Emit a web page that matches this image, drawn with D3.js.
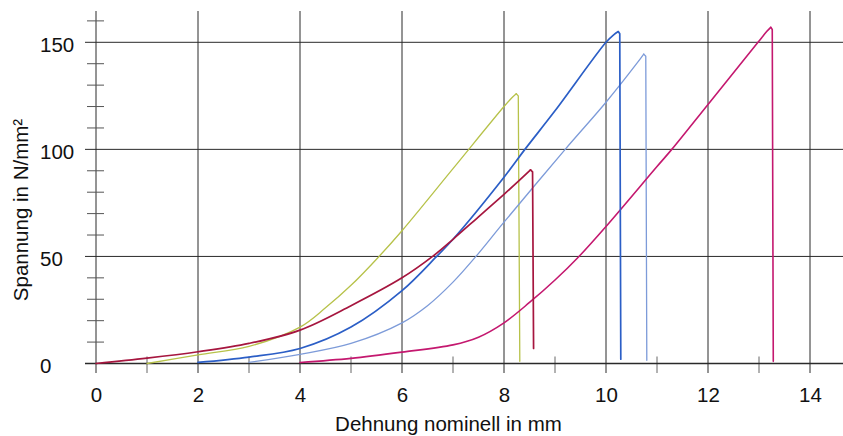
<!DOCTYPE html>
<html><head><meta charset="utf-8">
<script src="https://cdn.jsdelivr.net/npm/d3@7"></script>
<style>
html,body{margin:0;padding:0;background:#fff;}
svg{display:block;font-family:"Liberation Sans",Arial,sans-serif;}
</style></head>
<body><svg id="c" width="843" height="436"></svg>
<script>
// ---- data ----
const xTicks = [0, 2, 4, 6, 8, 10, 12, 14];
const xMinor = [1, 3, 5, 7, 9, 11, 13];
const yTicks = [0, 50, 100, 150];
const yMinor = [10, 20, 30, 40, 60, 70, 80, 90, 110, 120, 130, 140, 160];
const xTitle = "Dehnung nominell in mm";
const yTitle = "Spannung in N/mm²";

const greenX = [1, 2, 3, 4, 4.5, 5, 5.55, 6, 7, 8, 8.15, 8.24, 8.28, 8.31];
const greenY = [0, 4, 8, 17, 26, 36.5, 50, 62, 91, 120, 124, 126, 125, 1];

const redX = [0, 1, 2, 3, 4, 5, 6, 6.6, 7, 7.5, 8, 8.3, 8.52, 8.56, 8.58];
const redY = [0, 2.5, 5.5, 9.4, 15.6, 27, 40, 50, 58, 68.5, 79, 85.5, 90.4, 89.5, 7];

const blueX = [2, 3, 4, 5, 6, 6.68, 7, 8, 8.41, 9, 10, 10.15, 10.24, 10.27, 10.29];
const blueY = [0.5, 3, 7, 17, 34, 50, 58, 87, 100, 118, 150, 153.5, 155, 154, 2];

const lightBlueX = [3, 4, 5, 6, 6.5, 7, 7.45, 8, 9.2, 10, 10.6, 10.74, 10.78, 10.8];
const lightBlueY = [0.5, 4.3, 9.4, 19, 27, 38, 50, 66, 100, 122, 140, 144.5, 143.5, 1.5];

const magentaX = [4, 5, 6, 7, 7.5, 8, 8.5, 9, 9.47, 10, 11, 11.29, 12, 12.98, 13.15, 13.23, 13.26, 13.28];
const magentaY = [0.5, 2.4, 5.3, 8.7, 12.3, 19, 28.5, 39, 50, 64, 92, 100, 121, 150, 155, 157, 156, 1];

const series = [
  {x: greenX, y: greenY, color: "#b7c24a", w: 1.3},
  {x: lightBlueX, y: lightBlueY, color: "#7d9bd9", w: 1.3},
  {x: magentaX, y: magentaY, color: "#c4186f", w: 1.6},
  {x: blueX, y: blueY, color: "#2b5ec6", w: 1.7},
  {x: redX, y: redY, color: "#a6163f", w: 1.7}
];

// ---- scales ----
const svg = d3.select("#c");
const x = d3.scaleLinear().domain([0, 14]).range([96, 810]);
const y = d3.scaleLinear().domain([0, 150]).range([363.5, 42.3]);
const gridTop = 11, tickBottom = 373, lineColor = "#2a2a2a";

svg.append("g").selectAll("line").data(xTicks).join("line")
  .attr("x1", d => x(d)).attr("x2", d => x(d))
  .attr("y1", gridTop).attr("y2", tickBottom)
  .attr("stroke", lineColor).attr("stroke-width", 1);
svg.append("g").selectAll("line").data(xMinor).join("line")
  .attr("x1", d => x(d)).attr("x2", d => x(d))
  .attr("y1", y(0) - 7).attr("y2", tickBottom)
  .attr("stroke", "#666").attr("stroke-width", 1);
svg.append("g").selectAll("line").data(yTicks).join("line")
  .attr("x1", 85).attr("x2", 843)
  .attr("y1", d => y(d)).attr("y2", d => y(d))
  .attr("stroke", lineColor).attr("stroke-width", d => d === 0 ? 1.3 : 1);
svg.append("g").selectAll("line").data(yMinor).join("line")
  .attr("x1", 87).attr("x2", 104)
  .attr("y1", d => y(d)).attr("y2", d => y(d))
  .attr("stroke", "#555").attr("stroke-width", 1);

const xAxis = svg.append("g").attr("transform", `translate(0,${y(0)})`)
  .call(d3.axisBottom(x).tickValues(xTicks).tickSize(0).tickFormat(d3.format("d")));
xAxis.select(".domain").remove();
xAxis.selectAll("text").attr("y", 38).attr("dy", 0)
  .attr("font-size", "20.5px").attr("font-family", "Liberation Sans, Arial, sans-serif").attr("fill", "#111");

const yAxis = svg.append("g").attr("transform", "translate(40,0)")
  .call(d3.axisLeft(y).tickValues(yTicks).tickSize(0).tickFormat(d3.format("d")));
yAxis.select(".domain").remove();
yAxis.selectAll("text").attr("x", 0).attr("dy", "0.43em").attr("text-anchor", "start")
  .attr("font-size", "20.5px").attr("font-family", "Liberation Sans, Arial, sans-serif").attr("fill", "#111");

svg.append("text").attr("x", 448.5).attr("y", 431).attr("text-anchor", "middle")
  .attr("font-size", "20.5px").attr("fill", "#111").text(xTitle);
svg.append("text").attr("transform", "translate(27.5,210) rotate(-90)").attr("text-anchor", "middle")
  .attr("font-size", "20.5px").attr("fill", "#111").text(yTitle);

// curves: smooth rise up to the peak, then straight drop
const smooth = d3.line().x(d => x(d[0])).y(d => y(d[1])).curve(d3.curveCatmullRom.alpha(0.5));
const straight = d3.line().x(d => x(d[0])).y(d => y(d[1]));
series.forEach(s => {
  const pts = s.x.map((v, i) => [v, s.y[i]]);
  const peak = d3.maxIndex(s.y);
  const g = svg.append("g").attr("fill", "none").attr("stroke", s.color)
    .attr("stroke-width", s.w).attr("stroke-linejoin", "round").attr("stroke-linecap", "round");
  g.append("path").attr("d", smooth(pts.slice(0, peak + 1)));
  g.append("path").attr("d", straight(pts.slice(peak)));
});
</script></body></html>
